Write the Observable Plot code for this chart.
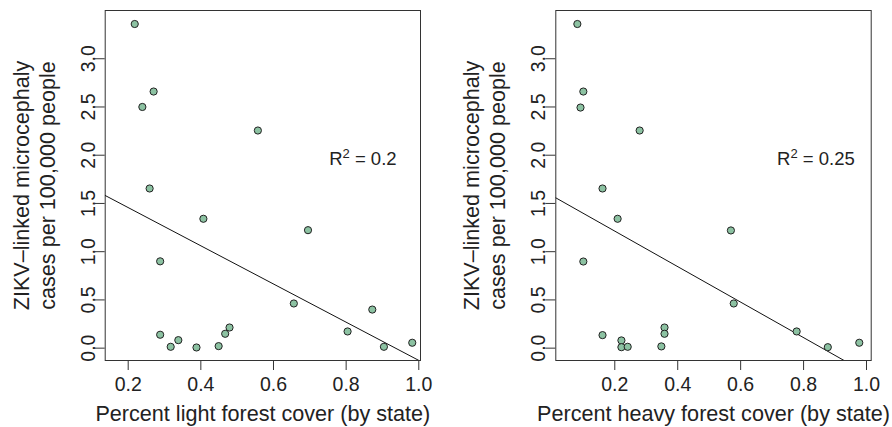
<!DOCTYPE html>
<html>
<head>
<meta charset="utf-8">
<script src="https://cdn.jsdelivr.net/npm/d3@7"></script>
<script src="https://cdn.jsdelivr.net/npm/@observablehq/plot@0.6"></script>
<style>
  html, body { margin: 0; padding: 0; background: #fff; }
  #wrap { position: relative; width: 892px; height: 427px; overflow: hidden; }
  #wrap > div { position: absolute; top: 0; }
  svg { display: block; }
</style>
</head>
<body>
<div id="wrap"><div id="left"></div><div id="right"></div></div>
<script>
// ---- data ----
const lightX = [0.218, 0.270, 0.239, 0.557, 0.259, 0.407, 0.695, 0.288, 0.656, 0.872,
                0.804, 0.288, 0.479, 0.467, 0.338, 0.317, 0.388, 0.449, 0.904, 0.982];
const lightY = [3.36, 2.66, 2.50, 2.256, 1.655, 1.341, 1.223, 0.90, 0.463, 0.40,
                0.173, 0.139, 0.214, 0.149, 0.083, 0.014, 0.007, 0.021, 0.014, 0.056];
const heavyX = [0.081, 0.100, 0.091, 0.279, 0.161, 0.209, 0.569, 0.100, 0.578,
                0.778, 0.161, 0.358, 0.358, 0.221, 0.221, 0.241, 0.348, 0.877, 0.977];
const heavyY = [3.36, 2.66, 2.494, 2.256, 1.655, 1.341, 1.22, 0.898, 0.463,
                0.173, 0.135, 0.214, 0.149, 0.080, 0.010, 0.014, 0.018, 0.010, 0.056];
const fitLight = {intercept: 1.853, slope: -1.98};
const fitHeavy = {intercept: 1.581, slope: -1.84};
const r2Values = [0.2, 0.25];
const xTicks = [0.2, 0.4, 0.6, 0.8, 1.0];
const yTicks = [0.0, 0.5, 1.0, 1.5, 2.0, 2.5, 3.0];
const xTitles = ["Percent light forest cover (by state)", "Percent heavy forest cover (by state)"];
const yTitle = "ZIKV\u2013linked microcephaly\ncases per 100,000 people";

const FONT = "'Liberation Sans', Arial, Helvetica, sans-serif";
const INK = "#222";
const FILL = "#8cc2a2";
const yDomain = [-0.128, 3.50];

function panel({xs, ys, xDomain, fit, r2, r2pos, xTitle, marginLeft, marginRight}) {
  const pts = xs.map((x, i) => ({x, y: ys[i]}));
  const fitLine = xDomain.map(x => ({x, y: fit.intercept + fit.slope * x}));
  const svg = Plot.plot({
    width: 446, height: 427,
    marginTop: 10, marginBottom: 67, marginLeft, marginRight,
    style: {fontFamily: FONT, fontSize: "18px", color: INK, background: "white", overflow: "visible"},
    x: {domain: xDomain},
    y: {domain: yDomain},
    marks: [
      Plot.frame({stroke: "#333", strokeWidth: 1}),
      Plot.line(fitLine, {x: "x", y: "y", stroke: "#111", strokeWidth: 1, clip: true}),
      Plot.dot(pts, {x: "x", y: "y", r: 3.6, fill: FILL, stroke: INK, strokeWidth: 1}),
      Plot.axisX({ticks: xTicks, tickSize: 10, tickPadding: 6.2, tickFormat: d => d.toFixed(1),
                  label: null, fontSize: 19.5, stroke: "#333"}),
      Plot.axisY({ticks: yTicks, tickSize: 10, tickFormat: () => "", label: null, stroke: "#333"}),
      Plot.text(yTicks, {y: d => d, text: d => d.toFixed(1), frameAnchor: "left", dx: -10.5,
                         rotate: -90, textAnchor: "middle", lineAnchor: "bottom", fontSize: 19.5, fill: INK}),
      Plot.text([xTitle], {text: d => d, frameAnchor: "bottom", dy: 60, lineAnchor: "bottom",
                           fontSize: 21.6, fill: INK}),
      Plot.text([yTitle], {text: d => d, frameAnchor: "left", dx: -50.5, rotate: -90, textAnchor: "middle",
                           lineAnchor: "bottom", lineHeight: 1.2, fontSize: 21.6, fill: INK}),
      Plot.text([r2], {x: () => r2pos[0], y: () => r2pos[1], text: d => "R2 = " + d,
                       textAnchor: "middle", lineAnchor: "bottom", fontSize: 18.5, fill: INK})
    ]
  });
  // superscript the 2 of R²
  svg.querySelectorAll("text").forEach(t => {
    if (t.textContent.startsWith("R2 = ")) {
      const rest = t.textContent.slice(2);
      t.textContent = "";
      const ns = "http://www.w3.org/2000/svg";
      const a = document.createElementNS(ns, "tspan"); a.textContent = "R";
      const b = document.createElementNS(ns, "tspan"); b.textContent = "2";
      b.setAttribute("font-size", "13"); b.setAttribute("dy", "-6.5");
      const c = document.createElementNS(ns, "tspan"); c.textContent = rest;
      c.setAttribute("dy", "6.5");
      t.append(a, b, c);
    }
  });
  return svg;
}

const left = panel({xs: lightX, ys: lightY, xDomain: [0.1367, 1.0047], fit: fitLight,
                    r2: r2Values[0], r2pos: [0.846, 1.90], xTitle: xTitles[0],
                    marginLeft: 104.7, marginRight: 26});
const right = panel({xs: heavyX, ys: heavyY, xDomain: [0.0125, 1.0149], fit: fitHeavy,
                     r2: r2Values[1], r2pos: [0.839, 1.90], xTitle: xTitles[1],
                     marginLeft: 109.3, marginRight: 21.3});
const L = document.getElementById("left"), R = document.getElementById("right");
L.style.left = "0px"; R.style.left = "446px";
L.append(left); R.append(right);
</script>
</body>
</html>
